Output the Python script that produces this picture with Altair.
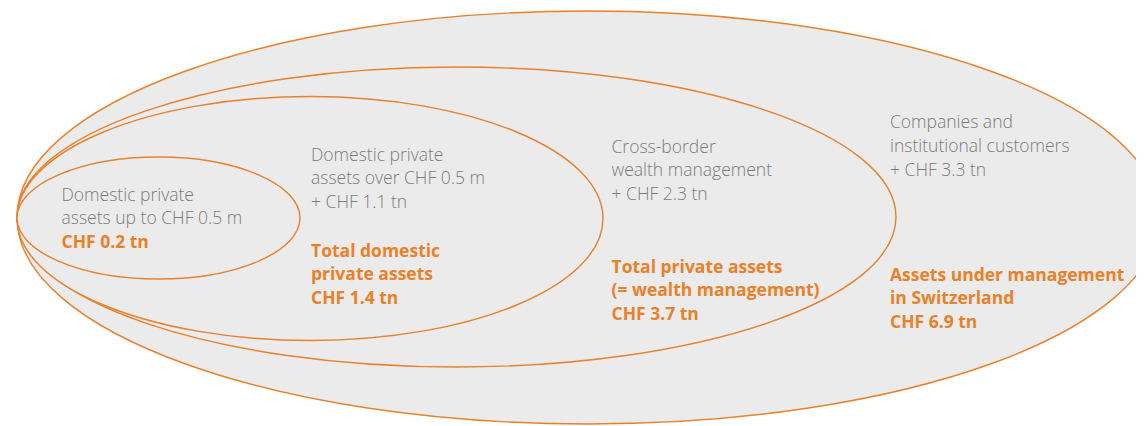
import altair as alt
import pandas as pd

# ---- data ----
segment_lines = [
    ["Domestic private", "assets up to CHF 0.5 m"],
    ["Domestic private", "assets over CHF 0.5 m"],
    ["Cross-border", "wealth management"],
    ["Companies and", "institutional customers"],
]
increments = [0.2, 1.1, 2.3, 3.3]          # CHF tn added by each ring
totals = [0.2, 1.4, 3.7, 6.9]              # cumulative CHF tn
total_titles = [
    [],
    ["Total domestic", "private assets"],
    ["Total private assets", "(= wealth management)"],
    ["Assets under management", "in Switzerland"],
]

# ---- layout (image pixel coordinates) ----
ell_cx = [158.5, 310.0, 456.5, 588.0]
ell_cy = [218.0, 218.5, 217.0, 217.5]
ell_rx = [141.5, 293.0, 439.5, 571.0]
ell_ry = [61.0, 122.0, 150.0, 206.5]

label_x = [61.5, 311.0, 611.5, 890.0]
gray_first_baseline = [200.7, 160.7, 152.7, 128.3]
orange_first_baseline = [247.7, 256.7, 272.7, 280.7]
line_step = 23.7

ORANGE = "#E8812A"
GRAY = "#7B7B7B"
FILL = "#EBEBEB"
FONT = "Open Sans"
FS = 17.5

# ellipses as custom symbol paths (outer drawn first)
ell_rows = []
for i in range(4):
    k = ell_ry[i] / ell_rx[i]
    path = f"M -1 0 A 1 {k:.5f} 0 1 1 1 0 A 1 {k:.5f} 0 1 1 -1 0 Z"
    ell_rows.append({"x": ell_cx[i], "y": ell_cy[i], "shape": path,
                     "size": (2 * ell_rx[i]) ** 2, "ord": 4 - i})
ell_df = pd.DataFrame(ell_rows).sort_values("ord")

def fmt(v):
    return f"{v:.1f}"

text_rows = []
for i in range(4):
    glines = list(segment_lines[i])
    if i > 0:
        glines.append(f"+ CHF {fmt(increments[i])} tn")
    for j, t in enumerate(glines):
        text_rows.append({"x": label_x[i], "y": gray_first_baseline[i] + j * line_step,
                          "text": t, "kind": "gray"})
    olines = list(total_titles[i]) + [f"CHF {fmt(totals[i])} tn"]
    for j, t in enumerate(olines):
        text_rows.append({"x": label_x[i], "y": orange_first_baseline[i] + j * line_step,
                          "text": t, "kind": "orange"})
text_df = pd.DataFrame(text_rows)

W = 1128
H = 418
xs = alt.Scale(domain=[8, 8 + W], nice=False, zero=False)
ys = alt.Scale(domain=[8, 8 + H], nice=False, zero=False, reverse=True)

ellipses = alt.Chart(ell_df).mark_point(
    filled=False, fill=FILL, fillOpacity=1, stroke=ORANGE, strokeWidth=1.4, opacity=1
).encode(
    x=alt.X("x:Q", scale=xs, axis=None),
    y=alt.Y("y:Q", scale=ys, axis=None),
    shape=alt.Shape("shape:N", scale=None, legend=None),
    size=alt.Size("size:Q", scale=None, legend=None),
    order=alt.Order("ord:Q"),
)

gray_text = alt.Chart(text_df[text_df.kind == "gray"]).mark_text(
    align="left", baseline="alphabetic", font=FONT, fontSize=FS, fontWeight=300, color=GRAY
).encode(
    x=alt.X("x:Q", scale=xs, axis=None),
    y=alt.Y("y:Q", scale=ys, axis=None),
    text="text:N",
)

orange_text = alt.Chart(text_df[text_df.kind == "orange"]).mark_text(
    align="left", baseline="alphabetic", font=FONT, fontSize=FS, fontWeight="bold", color=ORANGE
).encode(
    x=alt.X("x:Q", scale=xs, axis=None),
    y=alt.Y("y:Q", scale=ys, axis=None),
    text="text:N",
)

chart = alt.layer(ellipses, gray_text, orange_text).properties(
    width=W, height=H, padding=0, autosize=alt.AutoSizeParams(type="none"),
    background="white",
).configure_view(strokeWidth=0)

chart.save("out.html", embed_options={"renderer": "svg", "actions": False})
